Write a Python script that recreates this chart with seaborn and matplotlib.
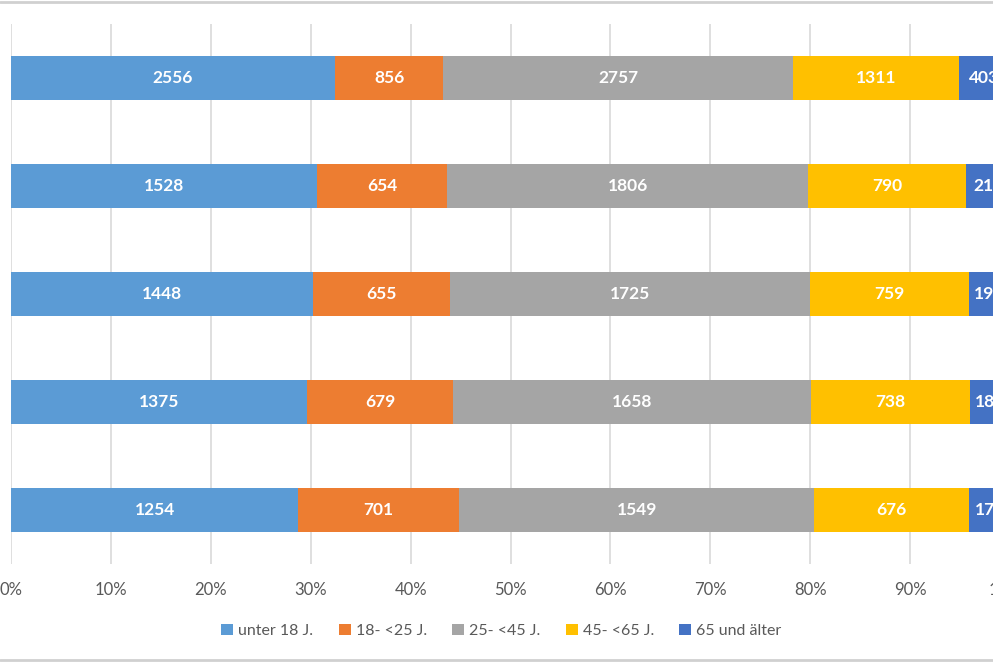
import numpy as np
import pandas as pd
import seaborn as sns
import matplotlib.pyplot as plt
from matplotlib.lines import Line2D
from matplotlib.patches import Patch
from matplotlib.ticker import PercentFormatter

# rows from top to bottom (no row labels visible in the crop)
rows = ['Zeile 1', 'Zeile 2', 'Zeile 3', 'Zeile 4', 'Zeile 5']
groups = ['unter 18 J.', '18- <25 J.', '25- <45 J.', '45- <65 J.', '65 und älter']
unter18 = [2556, 1528, 1448, 1375, 1254]
j18_25 = [856, 654, 655, 679, 701]
j25_45 = [2757, 1806, 1725, 1658, 1549]
j45_65 = [1311, 790, 759, 738, 676]
ab65 = [403, 218, 198, 188, 178]
colors = ['#5B9BD5', '#ED7D31', '#A5A5A5', '#FFC000', '#4472C4']

counts = pd.DataFrame(dict(zip(groups, [unter18, j18_25, j25_45, j45_65, ab65])), index=rows)
share = counts.div(counts.sum(axis=1), axis=0) * 100
cum = share.cumsum(axis=1)

sns.set_theme(style='white')
plt.rcParams['font.family'] = ['Lato', 'DejaVu Sans']

fig = plt.figure(figsize=(9.93, 6.62), dpi=100)
W, H = 993, 662
# plot area runs off the right edge of the picture, like the cropped original
ax = fig.add_axes([11 / W, 1 - 564 / H, 999 / W, 540 / H])

# draw the cumulative totals from widest to narrowest so they stack
for g, c in reversed(list(zip(groups, colors))):
    plot_df = pd.DataFrame({'row': rows, 'value': cum[g].values})
    sns.barplot(data=plot_df, x='value', y='row', color=c, width=0.41,
                linewidth=0, saturation=1, ax=ax, orient='h')

for i, r in enumerate(rows):
    left = 0
    for g in groups:
        w = share.loc[r, g]
        ax.text(left + w / 2, i, f'{counts.loc[r, g]}', ha='center', va='center',
                color='white', fontsize=12.5, fontweight='bold')
        left += w

ax.set_xlim(0, 100)
ax.set_ylim(4.5, -0.5)
ax.set_xticks(np.arange(0, 101, 10))
ax.xaxis.set_major_formatter(PercentFormatter(decimals=0))
ax.grid(axis='x', color='#D9D9D9', linewidth=1.2)
ax.set_axisbelow(True)
ax.set_yticks([])
ax.set_xlabel('')
ax.set_ylabel('')
sns.despine(ax=ax, left=True, bottom=True)
ax.tick_params(axis='x', length=0, pad=13, labelsize=12, labelcolor='#595959')

handles = [Patch(facecolor=c, edgecolor='none') for c in colors]
fig.legend(handles, groups, loc='center', bbox_to_anchor=(0.505, 1 - 631 / H), ncol=5,
           frameon=False, fontsize=11.5, handlelength=0.75, handleheight=0.75,
           handletextpad=0.3, columnspacing=1.6, labelcolor='#595959')

# chart border lines at top and bottom of the crop
fig.add_artist(Line2D([0, 1], [1 - 1.5 / H, 1 - 1.5 / H], color='#D0D0D0', linewidth=2))
fig.add_artist(Line2D([0, 1], [1 - 660 / H, 1 - 660 / H], color='#D0D0D0', linewidth=2))

fig.savefig('out.png', dpi=100)
